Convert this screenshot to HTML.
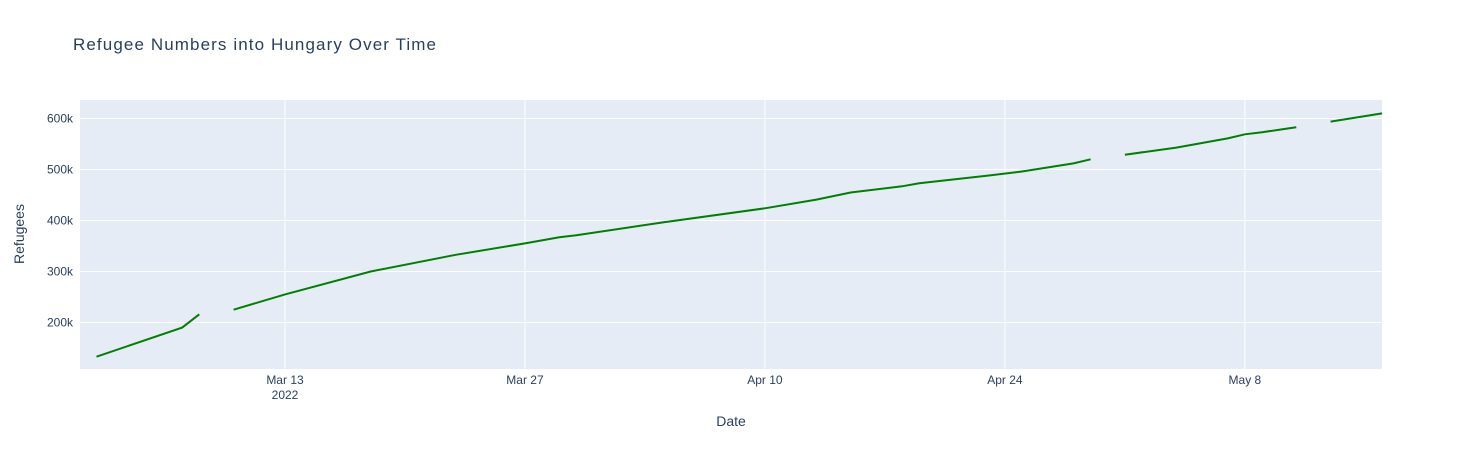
<!DOCTYPE html>
<html><head><meta charset="utf-8"><style>
body{margin:0;background:#fff;font-family:"Liberation Sans",Arial,sans-serif}
svg text{fill:#2a3f5f;font-family:"Liberation Sans",Arial,sans-serif}
</style></head><body>
<svg id="chart" width="1462" height="450">
<text x="73" y="50" font-size="17" textLength="363">Refugee Numbers into Hungary Over Time</text>
<rect x="80" y="100" width="1302" height="269" fill="#e5ecf6"/>
<g id="grid"></g>
<g id="ticks"></g>
<text x="731" y="426" font-size="14" text-anchor="middle">Date</text>
<text transform="translate(24,234) rotate(-90)" font-size="14" text-anchor="middle">Refugees</text>
<path id="line" fill="none" stroke="#008000" stroke-width="2"/>
</svg>
<script>
// day index from Mar 1 2022
const days = [1,6,7,8,9,12,17,22,26,28,29,34,40,43,45,48,49,53,55,58,59,60,61,64,67,68,69,70,71,72,73,76];
const values = [133000,190000,216000,null,225000,255000,300000,333000,355000,367000,371000,396000,424000,441000,455000,467000,473000,488000,496000,512000,520000,null,529000,543000,561000,569000,573000,578000,583000,null,594000,610000];
const xTickDays = [12,26,40,54,68];
const xTickLabels = ["Mar 13","Mar 27","Apr 10","Apr 24","May 8"];
const yTicks = [200000,300000,400000,500000,600000];
const yTickLabels = ["200k","300k","400k","500k","600k"];
const X0=80,X1=1382,Y0=100,Y1=369, dMin=0.04, dMax=76, vMin=108800, vMax=636300;
const xs=d=>X0+(d-dMin)/(dMax-dMin)*(X1-X0);
const ys=v=>Y1-(v-vMin)/(vMax-vMin)*(Y1-Y0);
const NS="http://www.w3.org/2000/svg";
const grid=document.getElementById('grid'), ticks=document.getElementById('ticks');
function mk(tag,attrs,parent){const e=document.createElementNS(NS,tag);for(const k in attrs)e.setAttribute(k,attrs[k]);parent.appendChild(e);return e;}
xTickDays.forEach((d,i)=>{
  const x=xs(d);
  const l=mk('line',{x1:x,x2:x,y1:Y0,y2:Y1,stroke:'#fff','stroke-width':1},grid);
  
  
  const t=mk('text',{x:x,y:384,'font-size':12,'text-anchor':'middle'},ticks);
  t.textContent=xTickLabels[i];
  
  
  if(i===0){const t2=mk('text',{x:x,y:399,'font-size':12,'text-anchor':'middle'},ticks);t2.textContent='2022';
    
    }
});
yTicks.forEach((v,i)=>{
  const y=ys(v);
  const l=mk('line',{x1:X0,x2:X1,y1:y,y2:y,stroke:'#fff','stroke-width':1},grid);
  
  
  const t=mk('text',{x:73,y:y+4,'font-size':12,'text-anchor':'end'},ticks);
  t.textContent=yTickLabels[i];
  
  
});
let p='',pen=false;
days.forEach((d,i)=>{const v=values[i];if(v==null){pen=false;return;}
  p+=(pen?'L':'M')+xs(d).toFixed(1)+','+ys(v).toFixed(1);pen=true;});
document.getElementById('line').setAttribute('d',p);
</script>
</body></html>
